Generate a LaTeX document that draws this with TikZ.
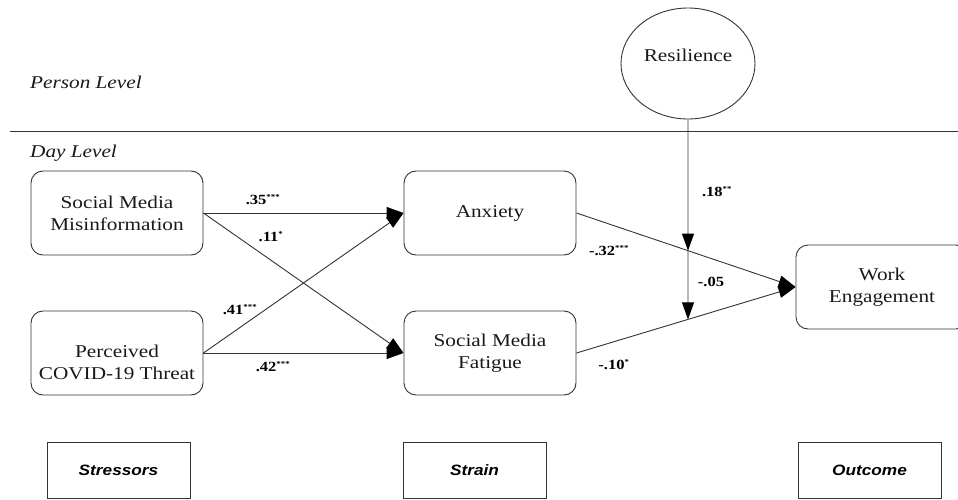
\documentclass[tikz,border=0pt]{standalone}
\usepackage{fontspec}
\setmainfont[FakeStretch=1.18]{Liberation Serif}
\newfontfamily\headfont[FakeStretch=1.15]{Liberation Sans}
\usetikzlibrary{arrows.meta, shapes.geometric, positioning}

% significance stars
\newcommand{\sig}[1]{\textsuperscript{\fontsize{7.5}{7.5}\selectfont #1}}

\begin{document}
\begin{tikzpicture}[x=1pt, y=-1pt,
	var/.style={draw=black!80, line width=0.9pt, rounded corners=12pt, minimum width=172pt, minimum height=84pt, align=center, text=black!90, font=\fontsize{18}{22}\selectfont},
	vartext/.style={align=center, text=black!90, font=\fontsize{18}{22}\selectfont},
	head/.style={draw=black!80, line width=0.9pt, minimum width=143pt, minimum height=56pt, font=\headfont\bfseries\itshape\fontsize{15}{18}\selectfont},
	path/.style={draw=black!80, line width=0.9pt, -{Triangle[length=17pt,width=12pt,black]}},
	coef/.style={font=\bfseries\fontsize{14}{16}\selectfont},
	level/.style={anchor=west, inner sep=0pt, text=black!90, font=\itshape\fontsize{18}{22}\selectfont}]
	
	\clip (0,0) rectangle (958,500);
	
	% Levels
	\node[level] (person) at (30,82) {Person Level};
	\draw[black!80, line width=0.9pt] (10,131) -- (958,131);
	\node[level] (day) at (30,153) {Day Level};
	
	% Moderator
	\node[draw=black!80, line width=0.9pt, ellipse, minimum width=134pt, minimum height=111pt,
		label={[vartext, yshift=8pt]center:Resilience}] (res) at (688,63.5) {};
	
	% Variables
	\node[var] (smm) at (117,213) {Social Media\\Misinformation};
	\node[var, label={[vartext, yshift=-9pt]center:Perceived\\COVID-19 Threat}] (pct) at (117,353) {};
	\node[var] (anx) at (490,213) {Anxiety};
	\node[var] (smf) at (490,353) {Social Media\\Fatigue};
	\node[var] (we) at (882,287) {Work\\Engagement};
	
	% Paths
	\draw[path] (smm.east) -- (anx.west);
	\draw[path] (smm.east) -- (smf.west);
	\draw[path] (pct.east) -- (anx.west);
	\draw[path] (pct.east) -- (smf.west);
	\draw[path] (anx.east) -- (we.west);
	\draw[path] (smf.east) -- (we.west);
	
	% Moderation
	\coordinate (m1) at (intersection of anx.east--we.west and res.north--res.south);
	\coordinate (m2) at (intersection of smf.east--we.west and res.north--res.south);
	\draw[path] (res) -- (m1);
	\draw[path] (m1) -- (m2);
	
	% Coefficients
	\node[coef] (c35) at (263,200) {.35\sig{***}};
	\node[coef] (c11) at (271,237) {.11\sig{*}};
	\node[coef] (c41) at (240,310) {.41\sig{***}};
	\node[coef] (c42) at (273,367) {.42\sig{***}};
	\node[coef] (c18) at (717,192) {.18\sig{**}};
	\node[coef] (c32) at (609,251) {-.32\sig{***}};
	\node[coef] (c05) at (711,282) {-.05};
	\node[coef] (c10) at (614,365) {-.10\sig{*}};
	
	% Stages
	\node[head] (stress) at (118.5,470) {Stressors};
	\node[head] (strain) at (474.5,470) {Strain};
	\node[head] (outcome) at (869.5,470) {Outcome};
	
\end{tikzpicture}
\end{document}
